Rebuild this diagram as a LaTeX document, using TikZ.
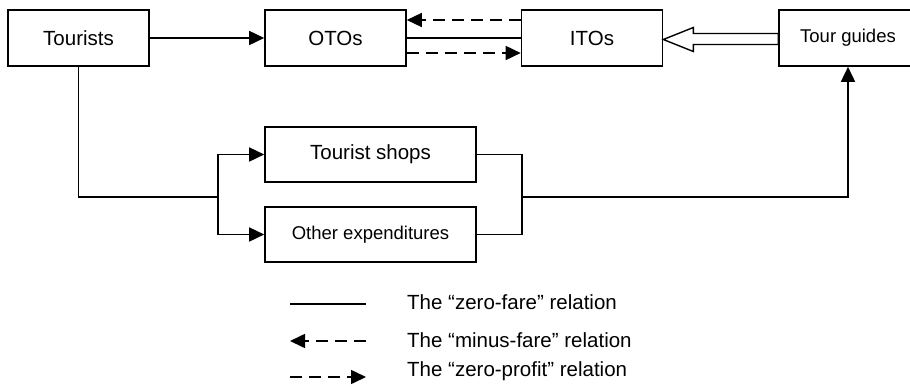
\documentclass[tikz,border=0pt]{standalone}
\usepackage{fontspec}
\setmainfont{Liberation Sans}
\usetikzlibrary{arrows.meta,calc}

\begin{document}
\begin{tikzpicture}[x=1pt,y=-1pt,
  box/.style={draw,line width=1.6pt,minimum width=141pt,minimum height=56pt,
    inner sep=0pt,font=\fontsize{20.5}{24}\selectfont},
  widebox/.style={box,minimum width=211pt,minimum height=55pt},
  link/.style={line width=1.6pt},
  tip/.style={-{Triangle[length=15pt,width=14pt]}},
  dashline/.style={link,dash pattern=on 12pt off 7pt},
  legendtext/.style={anchor=west,inner sep=0pt,font=\fontsize{20.5}{24}\selectfont}]

\useasboundingbox (0,0) rectangle (910,388);
\clip (0,0) rectangle (910,388);

% top row
\node[box] (tourists) at (78.5,38) {Tourists};
\node[box] (otos)     at (335.5,38) {OTOs};
\node[box] (itos)     at (592,38) {ITOs};
\node[box,minimum width=138pt,font=\fontsize{18.5}{22}\selectfont] (guides) at (848,38) {Tour guides};

% spending destinations
\node[widebox] (shops) at (370.5,154.5) {Tourist shops};
\node[widebox,font=\fontsize{18.5}{22}\selectfont] (other) at (370.5,234.5) {Other expenditures};

% tourists buy from outbound operators
\draw[link,tip] (tourists.east) -- (otos.west);

% relations between outbound and inbound operators
\draw[dashline,tip] ($(itos.west)+(0,-18)$) -- ($(otos.east)+(0,-18)$);
\draw[link] (otos.east) -- (itos.west);
\draw[dashline,tip] ($(otos.east)+(0,15)$) -- ($(itos.west)+(0,15)$);

% hollow arrow from tour guides to inbound operators
\coordinate (hp) at ($(itos.east)+(0,1.5)$);
\draw[line width=1.4pt,fill=white]
  (hp) -- ++(30,-12) -- ++(0,6) -- ($(guides.west)+(0,-4.5)$)
  -- ($(guides.west)+(0,6.5)$) -- ($(hp)+(30,5)$) -- ++(0,7) -- cycle;

% tourists' spending splits to shops and other expenditures
\coordinate (split) at (218,197);
\coordinate (merge) at (522,197);
\draw[link] (tourists.south) |- (split);
\draw[link,tip] (split) |- (shops.west);
\draw[link,tip] (split) |- (other.west);

% commissions flow back to tour guides
\draw[link] (shops.east) -| (merge);
\draw[link] (other.east) -| (merge);
\draw[link,tip] (merge) -| (guides.south);

% legend
\coordinate (l1a) at (290,304);
\coordinate (l1b) at (366,304);
\coordinate (l2a) at (290,341);
\coordinate (l2b) at (366,341);
\coordinate (l3a) at (290,377);
\coordinate (l3b) at (366,377);
\draw[link] (l1a) -- (l1b);
\draw[dashline,tip] (l2b) -- (l2a);
\draw[dashline,tip] (l3a) -- (l3b);
\node[legendtext] (t1) at (407,302) {The “zero-fare” relation};
\node[legendtext] (t2) at (407,340) {The “minus-fare” relation};
\node[legendtext] (t3) at (407,371) {The “zero-profit” relation};
\end{tikzpicture}
\end{document}
